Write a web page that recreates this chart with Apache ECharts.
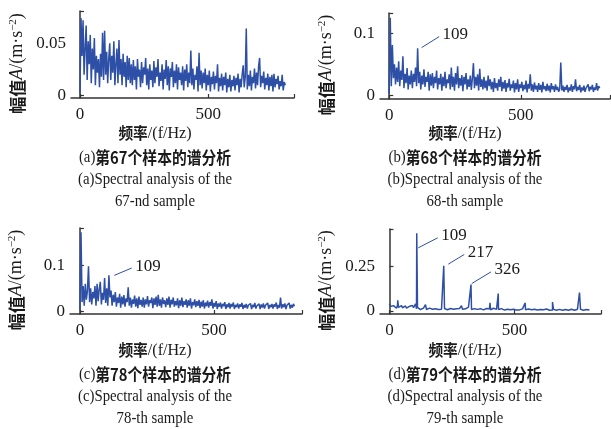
<!DOCTYPE html>
<html>
<head>
<meta charset="utf-8">
<script src="https://cdn.jsdelivr.net/npm/echarts@6/dist/echarts.min.js"></script>
<style>html,body{margin:0;background:#fff}#chart{width:611px;height:429px}</style>
</head>
<body>
<div id="chart"></div>
<script>
// Spectra, one value every 4 Hz from 0 to 800 Hz
var FREQ_STEP = 4;

var ampA = [
  0.002, 0.074, 0.038, 0.072, 0.020, 0.045, 0.067, 0.015, 0.052, 0.030,
  0.058, 0.012, 0.045, 0.025, 0.055, 0.010, 0.038, 0.022, 0.035, 0.008,
  0.040, 0.018, 0.060, 0.015, 0.062, 0.020, 0.042, 0.012, 0.035, 0.050,
  0.015, 0.038, 0.022, 0.052, 0.010, 0.030, 0.045, 0.012, 0.053, 0.020,
  0.035, 0.010, 0.040, 0.018, 0.032, 0.008, 0.038, 0.015, 0.036, 0.012,
  0.030, 0.010, 0.034, 0.015, 0.028, 0.006, 0.035, 0.018, 0.025, 0.008,
  0.032, 0.012, 0.027, 0.020, 0.036, 0.010, 0.026, 0.006, 0.030, 0.015,
  0.024, 0.008, 0.033, 0.012, 0.027, 0.018, 0.035, 0.009, 0.022, 0.014,
  0.030, 0.006, 0.025, 0.016, 0.034, 0.010, 0.028, 0.005, 0.026, 0.018,
  0.032, 0.008, 0.024, 0.012, 0.030, 0.006, 0.027, 0.015, 0.022, 0.010,
  0.028, 0.005, 0.025, 0.014, 0.030, 0.008, 0.022, 0.012, 0.043, 0.010,
  0.026, 0.006, 0.020, 0.015, 0.028, 0.004, 0.041, 0.010, 0.024, 0.007,
  0.022, 0.012, 0.026, 0.005, 0.020, 0.010, 0.024, 0.004, 0.018, 0.011,
  0.023, 0.006, 0.019, 0.012, 0.030, 0.004, 0.017, 0.009, 0.021, 0.005,
  0.018, 0.010, 0.022, 0.003, 0.016, 0.008, 0.020, 0.004, 0.015, 0.009,
  0.019, 0.005, 0.017, 0.010, 0.021, 0.003, 0.016, 0.008, 0.020, 0.029,
  0.008, 0.018, 0.064, 0.006, 0.020, 0.009, 0.024, 0.005, 0.018, 0.012,
  0.026, 0.007, 0.022, 0.010, 0.028, 0.036, 0.008, 0.019, 0.012, 0.023,
  0.006, 0.017, 0.010, 0.021, 0.005, 0.018, 0.009, 0.020, 0.004, 0.021,
  0.008, 0.016, 0.011, 0.019, 0.006, 0.014, 0.009, 0.020, 0.005, 0.013,
  0.010
];

var ampB = [
  0.003, 0.125, 0.015, 0.081, 0.028, 0.050, 0.018, 0.045, 0.022, 0.055,
  0.015, 0.040, 0.025, 0.063, 0.012, 0.035, 0.020, 0.044, 0.010, 0.032,
  0.018, 0.040, 0.012, 0.035, 0.022, 0.045, 0.015, 0.076, 0.020, 0.038,
  0.010, 0.032, 0.018, 0.042, 0.014, 0.030, 0.022, 0.038, 0.008, 0.034,
  0.016, 0.036, 0.012, 0.030, 0.020, 0.040, 0.010, 0.028, 0.018, 0.035,
  0.008, 0.030, 0.015, 0.038, 0.012, 0.026, 0.020, 0.034, 0.010, 0.045,
  0.014, 0.030, 0.008, 0.036, 0.018, 0.047, 0.012, 0.028, 0.016, 0.033,
  0.007, 0.030, 0.018, 0.036, 0.010, 0.026, 0.014, 0.032, 0.009, 0.028,
  0.052, 0.012, 0.030, 0.016, 0.034, 0.008, 0.043, 0.014, 0.026, 0.010,
  0.030, 0.012, 0.024, 0.008, 0.032, 0.015, 0.026, 0.010, 0.022, 0.006,
  0.028, 0.012, 0.020, 0.008, 0.026, 0.014, 0.030, 0.007, 0.022, 0.011,
  0.025, 0.006, 0.020, 0.013, 0.027, 0.008, 0.018, 0.012, 0.024, 0.005,
  0.020, 0.010, 0.026, 0.006, 0.018, 0.012, 0.022, 0.007, 0.017, 0.010,
  0.024, 0.005, 0.019, 0.011, 0.034, 0.008, 0.018, 0.006, 0.021, 0.010,
  0.016, 0.006, 0.020, 0.009, 0.017, 0.005, 0.022, 0.010, 0.015, 0.007,
  0.019, 0.008, 0.016, 0.005, 0.020, 0.010, 0.015, 0.006, 0.018, 0.009,
  0.014, 0.006, 0.011, 0.053, 0.008, 0.016, 0.006, 0.014, 0.009, 0.017,
  0.005, 0.013, 0.008, 0.018, 0.006, 0.015, 0.010, 0.026, 0.007, 0.014,
  0.009, 0.017, 0.005, 0.013, 0.008, 0.016, 0.006, 0.012, 0.009, 0.018,
  0.007, 0.014, 0.010, 0.017, 0.006, 0.013, 0.009, 0.020, 0.008, 0.015,
  0.012
];

var ampC = [
  0.003, 0.172, 0.020, 0.055, 0.012, 0.060, 0.025, 0.045, 0.098, 0.020,
  0.050, 0.015, 0.042, 0.028, 0.055, 0.012, 0.060, 0.022, 0.048, 0.064,
  0.015, 0.040, 0.025, 0.072, 0.018, 0.050, 0.012, 0.078, 0.030, 0.045,
  0.012, 0.036, 0.020, 0.042, 0.010, 0.030, 0.018, 0.038, 0.008, 0.032,
  0.015, 0.035, 0.010, 0.028, 0.020, 0.052, 0.012, 0.030, 0.008, 0.026,
  0.016, 0.034, 0.010, 0.028, 0.007, 0.032, 0.014, 0.025, 0.010, 0.030,
  0.008, 0.026, 0.015, 0.033, 0.010, 0.024, 0.018, 0.030, 0.007, 0.028,
  0.014, 0.032, 0.010, 0.036, 0.012, 0.026, 0.008, 0.030, 0.016, 0.024,
  0.009, 0.028, 0.014, 0.032, 0.008, 0.025, 0.015, 0.030, 0.010, 0.022,
  0.013, 0.028, 0.007, 0.024, 0.012, 0.030, 0.009, 0.022, 0.014, 0.026,
  0.008, 0.024, 0.012, 0.028, 0.006, 0.020, 0.013, 0.026, 0.009, 0.022,
  0.012, 0.025, 0.007, 0.021, 0.010, 0.024, 0.006, 0.019, 0.011, 0.023,
  0.008, 0.020, 0.012, 0.026, 0.006, 0.018, 0.010, 0.022, 0.005, 0.017,
  0.010, 0.019, 0.006, 0.016, 0.011, 0.020, 0.005, 0.015, 0.009, 0.018,
  0.006, 0.016, 0.010, 0.019, 0.005, 0.014, 0.009, 0.017, 0.006, 0.015,
  0.010, 0.018, 0.005, 0.014, 0.008, 0.016, 0.006, 0.013, 0.010, 0.017,
  0.005, 0.014, 0.009, 0.018, 0.006, 0.012, 0.010, 0.016, 0.005, 0.015,
  0.008, 0.017, 0.006, 0.013, 0.010, 0.018, 0.005, 0.014, 0.009, 0.016,
  0.006, 0.015, 0.010, 0.019, 0.005, 0.014, 0.008, 0.030, 0.006, 0.015,
  0.009, 0.017, 0.005, 0.013, 0.010, 0.018, 0.006, 0.014, 0.008, 0.016,
  0.011
];

var ampD = [
  0.040, 0.025, 0.035, 0.018, 0.030, 0.022, 0.028, 0.015, 0.032, 0.020,
  0.026, 0.012, 0.030, 0.018, 0.024, 0.014, 0.028, 0.016, 0.022, 0.012,
  0.026, 0.015, 0.020, 0.030, 0.018, 0.025, 0.040, 0.012, 0.020, 0.010,
  0.018, 0.008, 0.015, 0.010, 0.016, 0.012, 0.035, 0.008, 0.014, 0.010,
  0.016, 0.007, 0.013, 0.010, 0.015, 0.006, 0.012, 0.009, 0.014, 0.008,
  0.012, 0.015, 0.010, 0.020, 0.008, 0.014, 0.009, 0.013, 0.007, 0.012,
  0.009, 0.014, 0.006, 0.012, 0.010, 0.015, 0.007, 0.013, 0.020, 0.009,
  0.014, 0.008, 0.030, 0.010, 0.015, 0.007, 0.012, 0.018, 0.010, 0.022,
  0.012, 0.016, 0.008, 0.014, 0.010, 0.013, 0.006, 0.015, 0.009, 0.012,
  0.007, 0.013, 0.010, 0.015, 0.006, 0.012, 0.009, 0.014, 0.018, 0.010,
  0.013, 0.007, 0.012, 0.010, 0.015, 0.006, 0.011, 0.009, 0.020, 0.008,
  0.012, 0.006, 0.013, 0.009, 0.011, 0.005, 0.012, 0.008, 0.010, 0.006,
  0.011, 0.007, 0.012, 0.005, 0.010, 0.008, 0.011, 0.006, 0.009, 0.012,
  0.006, 0.010, 0.008, 0.012, 0.005, 0.015, 0.007, 0.010, 0.006, 0.011,
  0.005, 0.009, 0.007, 0.011, 0.004, 0.010, 0.006, 0.009, 0.005, 0.010,
  0.006, 0.008, 0.004, 0.010, 0.007, 0.009, 0.005, 0.011, 0.006, 0.008,
  0.004, 0.010, 0.012, 0.006, 0.009, 0.005, 0.008, 0.004, 0.010, 0.006,
  0.009, 0.005, 0.008, 0.004, 0.010, 0.006, 0.008, 0.005, 0.009, 0.004,
  0.008, 0.005, 0.010, 0.006, 0.009, 0.004, 0.008, 0.006, 0.010, 0.014,
  0.007, 0.009, 0.005, 0.008, 0.004, 0.009, 0.006, 0.008, 0.005, 0.007,
  0.006
];
// sharp harmonic lines of sample 79 (off the 4 Hz grid)
var peakFreqD = [33, 109, 217, 326, 402, 435, 543, 652, 760];
var peakAmpD  = [0.060, 0.433, 0.252, 0.147, 0.045, 0.097, 0.045, 0.050, 0.103];

var yTicksA = [0, 0.05];
var yTicksB = [0, 0.1];
var yTicksC = [0, 0.1];
var yTicksD = [0, 0.25];
var xTicks = [0, 500];

var xName = '{cn|频率}/(f/Hz)';
var captionsCn = ['(a){cn|第67个样本的谱分析}', '(b){cn|第68个样本的谱分析}',
                  '(c){cn|第78个样本的谱分析}', '(d){cn|第79个样本的谱分析}'];
var captionsEn = ['(a)Spectral analysis of the\n67-nd sample', '(b)Spectral analysis of the\n68-th sample',
                  '(c)Spectral analysis of the\n78-th sample', '(d)Spectral analysis of the\n79-th sample'];

// leader lines: label, start [Hz, amp], end [Hz, amp]
var notesB = [['109', [123, 0.077], [190, 0.0946]]];
var notesC = [['109', [128, 0.078], [193, 0.094]]];
var notesD = [['109', [115, 0.352], [193, 0.408]],
              ['217', [235, 0.261], [299, 0.315]],
              ['326', [329, 0.153], [406, 0.218]]];

var SERIF = '"Liberation Serif", "Times New Roman", serif';
var CJK = '"Noto Sans CJK SC", sans-serif';
var LINE = '#2e4fa6';
var AXIS = '#333';
var TEXT = '#1a1a1a';

function toPairs(amps, pf, pa) {
  var pts = amps.map(function (v, i) { return [i * FREQ_STEP, v]; });
  (pf || []).forEach(function (f, i) { pts.push([f, pa[i]]); });
  pts.sort(function (a, b) { return a[0] - b[0]; });
  return pts;
}

// grid boxes, axis ranges and caption anchors for the four panels
var panels = [
  { box: [71, 11, 223, 87],  x: [-35, 834], y: [-0.0022, 0.0808], yt: yTicksA, data: toPairs(ampA), notes: [], cx: 155, cy: 133 },
  { box: [380, 13, 230, 86], x: [-35, 839], y: [-0.0055, 0.1325], yt: yTicksB, data: toPairs(ampB), notes: notesB, cx: 465, cy: 133 },
  { box: [70, 228, 232, 86], x: [-37, 828], y: [-0.0059, 0.181],  yt: yTicksC, data: toPairs(ampC), notes: notesC, cx: 155, cy: 350 },
  { box: [380, 229, 221, 85], x: [-38, 846], y: [-0.0168, 0.457], yt: yTicksD, data: toPairs(ampD, peakFreqD, peakAmpD), notes: notesD, cx: 465, cy: 350 }
];

var option = { animation: false, grid: [], xAxis: [], yAxis: [], series: [], graphic: [] };

panels.forEach(function (p, i) {
  option.grid.push({ left: p.box[0], top: p.box[1], width: p.box[2], height: p.box[3], containLabel: false });
  option.xAxis.push({
    type: 'value', gridIndex: i, min: p.x[0], max: p.x[1],
    axisLine: { show: true, onZero: false, lineStyle: { color: AXIS, width: 1.5 } },
    axisTick: { show: true, inside: true, length: 4, customValues: xTicks.concat([p.x[1]]), lineStyle: { color: AXIS, width: 1.2 } },
    axisLabel: { customValues: xTicks, margin: 8, color: TEXT, fontFamily: SERIF, fontSize: 17 },
    splitLine: { show: false }
  });
  option.yAxis.push({
    type: 'value', gridIndex: i, min: p.y[0], max: p.y[1],
    axisLine: { show: true, lineStyle: { color: AXIS, width: 1.5 } },
    axisTick: { show: true, inside: true, length: 4, customValues: p.yt.concat([p.y[1]]), lineStyle: { color: AXIS, width: 1.2 } },
    axisLabel: { customValues: p.yt, margin: 5, color: TEXT, fontFamily: SERIF, fontSize: 17 },
    splitLine: { show: false },
    name: '{cn|幅值}{it|A}/(m·s{sup|−2})', nameLocation: 'middle', nameGap: 44, nameRotate: 90,
    nameTextStyle: {
      color: TEXT, fontFamily: SERIF, fontSize: 18, padding: [0, 18, 0, 0],
      rich: {
        cn: { fontFamily: CJK, fontWeight: 'bold', fontSize: 17 },
        it: { fontFamily: SERIF, fontStyle: 'italic', fontSize: 18 },
        sup: { fontFamily: SERIF, fontSize: 11, verticalAlign: 'top', padding: [0, 0, 8, 0] }
      }
    }
  });
  option.series.push({
    type: 'line', xAxisIndex: i, yAxisIndex: i, data: p.data,
    symbol: 'none', lineStyle: { color: LINE, width: 1.5 }, silent: true,
    markLine: {
      silent: true, symbol: 'none', animation: false,
      lineStyle: { color: LINE, width: 1, type: 'solid' },
      label: { show: true, position: 'end', distance: 4, formatter: '{b}', color: TEXT, fontFamily: SERIF, fontSize: 17 },
      data: p.notes.map(function (n) { return [{ name: n[0], coord: n[1] }, { coord: n[2] }]; })
    }
  });
  option.graphic.push({
    type: 'text', x: p.cx, y: p.cy, scaleX: 0.92,
    style: {
      text: xName, align: 'center', verticalAlign: 'middle',
      fill: TEXT, fontFamily: SERIF, fontSize: 17.5,
      rich: { cn: { fontFamily: CJK, fontWeight: 'bold', fontSize: 16 } }
    }
  });
  option.graphic.push({
    type: 'text', x: p.cx, y: p.cy + 14, scaleX: 0.87,
    style: {
      text: captionsCn[i] + '\n' + captionsEn[i], align: 'center', verticalAlign: 'top',
      fill: TEXT, fontFamily: SERIF, fontSize: 17, lineHeight: 22,
      rich: { cn: { fontFamily: CJK, fontWeight: 'bold', fontSize: 17, lineHeight: 22 } }
    }
  });
});

var chart = echarts.init(document.getElementById('chart'));
chart.setOption(option);
</script>
</body>
</html>
